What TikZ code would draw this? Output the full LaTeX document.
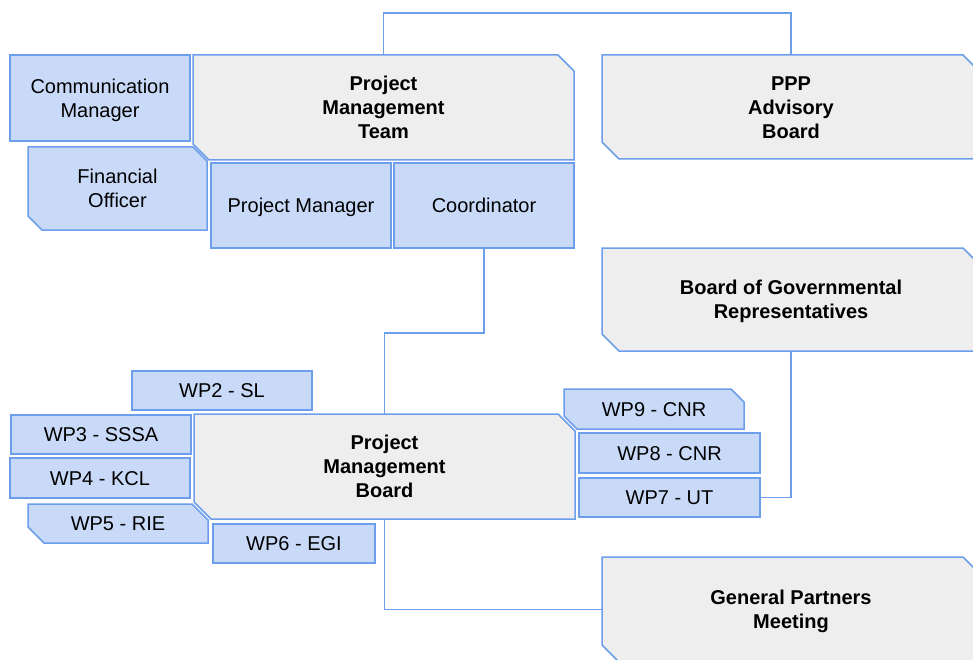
\documentclass[tikz,border=0pt]{standalone}
\usepackage{fontspec}
\setmainfont{Liberation Sans}

\definecolor{boxblue}{HTML}{C9DAF8}
\definecolor{boxgray}{HTML}{EEEEEE}
\definecolor{lineblue}{HTML}{6D9EEB}

\pgfdeclarelayer{background}
\pgfsetlayers{background,main}

\tikzset{
	boxline/.style={draw=lineblue, line width=1.5pt},
	wpbox/.style={boxline, fill=boxblue, rectangle, inner sep=0pt, outer sep=0pt, align=center},
	snipnode/.style={rectangle, inner sep=0pt, outer sep=0pt, align=center},
	bold/.style={font=\fontsize{20}{24}\selectfont\bfseries},
	oneline/.style={text height=19.2pt, text depth=4.8pt},
	twolines/.style={text height=43.2pt, text depth=4.8pt},
	threelines/.style={text height=67.2pt, text depth=4.8pt},
	link/.style={lineblue, line width=1.5pt},
	every node/.style={font=\fontsize{20}{24}\selectfont}
}

% box with the north east and south west corners cut off
\newcommand{\snipshape}[3]{%
	\filldraw[boxline, fill=#3] ([xshift=#2pt]#1.south west) -- (#1.south east)
		-- ([yshift=-#2pt]#1.north east) -- ([xshift=-#2pt]#1.north east)
		-- (#1.north west) -- ([yshift=#2pt]#1.south west) -- cycle;}

\begin{document}
\begin{tikzpicture}[x=1pt, y=-1pt]
\useasboundingbox (0,0) rectangle (973,660);

	%Project management team
\node[snipnode, bold, threelines, minimum width=381pt, minimum height=105pt] (pmt) at (383.5,107.5) {Project\\Management\\Team};
\node[wpbox, twolines, minimum width=180pt, minimum height=86pt] (comm) at (100,98) {Communication\\Manager};
\node[snipnode, twolines, minimum width=179pt, minimum height=83pt] (fin) at (117.5,188.5) {Financial\\Officer};
\node[wpbox, oneline, minimum width=180pt, minimum height=85pt] (pm) at (301,205.5) {Project Manager};
\node[wpbox, oneline, minimum width=180pt, minimum height=85pt] (coord) at (484,205.5) {Coordinator};

	%boards on the right
\node[snipnode, bold, threelines, minimum width=378pt, minimum height=104pt] (ppp) at (791,107) {PPP\\Advisory\\Board};
\node[snipnode, bold, twolines, minimum width=378pt, minimum height=103pt] (bgr) at (791,299.5) {Board of Governmental\\Representatives};
\node[snipnode, bold, twolines, minimum width=378pt, minimum height=105pt] (gpm) at (791,609.5) {General Partners\\Meeting};

	%Project management board
\node[snipnode, bold, threelines, minimum width=381pt, minimum height=105pt] (pmb) at (384.5,466.5) {Project\\Management\\Board};

	%work packages
\node[wpbox, oneline, minimum width=180pt, minimum height=39pt] (wp2) at (222,390.5) {WP2 - SL};
\node[wpbox, oneline, minimum width=180pt, minimum height=39pt] (wp3) at (101,434.5) {WP3 - SSSA};
\node[wpbox, oneline, minimum width=180pt, minimum height=40pt] (wp4) at (100,478) {WP4 - KCL};
\node[snipnode, oneline, minimum width=180pt, minimum height=39pt] (wp5) at (118,523.5) {WP5 - RIE};
\node[wpbox, oneline, minimum width=162pt, minimum height=39pt] (wp6) at (294,543.5) {WP6 - EGI};
\node[wpbox, oneline, minimum width=181pt, minimum height=39pt] (wp7) at (669.5,497.5) {WP7 - UT};
\node[wpbox, oneline, minimum width=181pt, minimum height=40pt] (wp8) at (669.5,453) {WP8 - CNR};
\node[snipnode, oneline, minimum width=180pt, minimum height=40pt] (wp9) at (654,409) {WP9 - CNR};

\begin{pgfonlayer}{background}
	\snipshape{pmt}{16}{boxgray}
	\snipshape{ppp}{17}{boxgray}
	\snipshape{bgr}{17}{boxgray}
	\snipshape{gpm}{17}{boxgray}
	\snipshape{pmb}{17}{boxgray}
	\snipshape{fin}{14}{boxblue}
	\snipshape{wp5}{16}{boxblue}
	\snipshape{wp9}{13}{boxblue}

	%links
	\draw[link] (pmt.north) -- ++(0,-42) -| (ppp.north);
	\draw[link] (coord.south) -- ++(0,85) -| (pmb.north);
	\draw[link] (pmb.south) |- (gpm.west);
	\draw[link] (bgr.south) |- (wp7.east);
\end{pgfonlayer}

\end{tikzpicture}
\end{document}
